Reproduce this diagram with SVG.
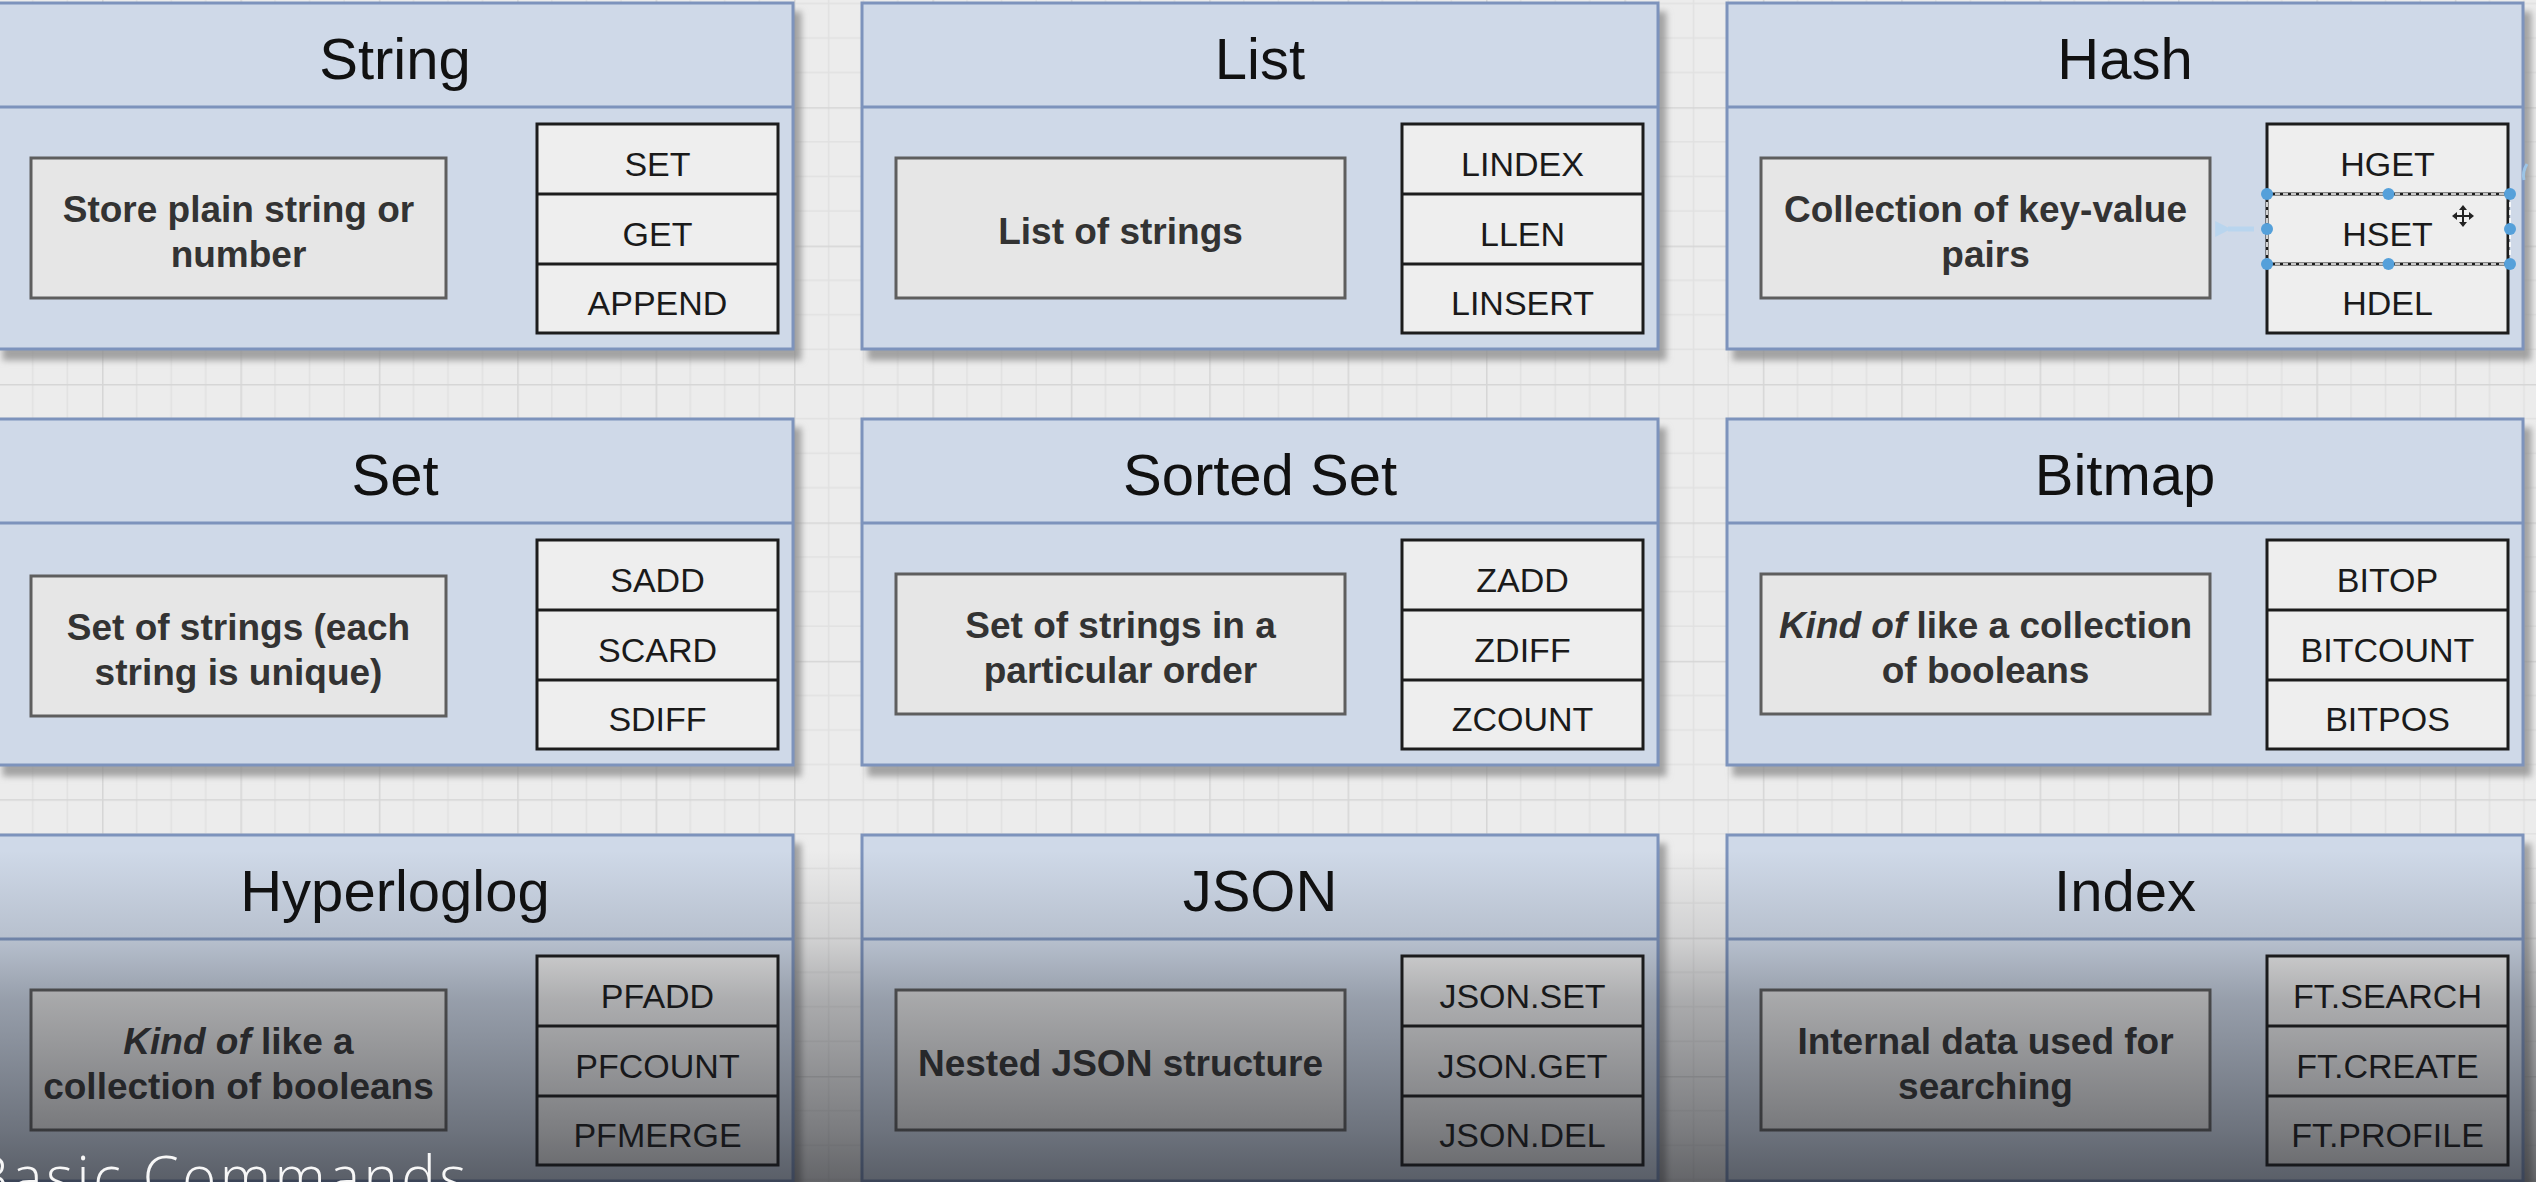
<svg xmlns="http://www.w3.org/2000/svg" width="2536" height="1182" viewBox="0 0 2536 1182">
<defs>
<pattern id="grid" x="-36.4" y="-31.2" width="138.4" height="138.4" patternUnits="userSpaceOnUse">
<rect width="138.4" height="138.4" fill="#ececec"/>
<path d="M34.6 0V138.4M69.2 0V138.4M103.8 0V138.4M0 34.6H138.4M0 69.2H138.4M0 103.8H138.4" stroke="#e1e1e1" stroke-width="1.5" fill="none"/>
<path d="M0.75 0V138.4M0 0.75H138.4" stroke="#d6d6d6" stroke-width="1.5" fill="none"/>
</pattern>
<filter id="shadow" x="-5%" y="-5%" width="115%" height="120%">
<feDropShadow dx="7" dy="10" stdDeviation="3" flood-color="#8a8a8a" flood-opacity="0.75"/>
</filter>
<linearGradient id="fade" x1="0" y1="850" x2="0" y2="1182" gradientUnits="userSpaceOnUse">
<stop offset="0" stop-color="#14161c" stop-opacity="0"/>
<stop offset="0.27" stop-color="#14161c" stop-opacity="0.13"/>
<stop offset="0.45" stop-color="#14161c" stop-opacity="0.3"/>
<stop offset="0.84" stop-color="#14161c" stop-opacity="0.52"/>
<stop offset="1" stop-color="#14161c" stop-opacity="0.63"/>
</linearGradient>
<marker id="hoverHead" viewBox="0 0 10 10" refX="2" refY="5" markerWidth="3.2" markerHeight="3.2" orient="auto">
<path d="M10 0L0 5L10 10z" fill="#b9d5ee"/>
</marker>
<style>
.lane{fill:#cfd9e8;stroke:#7d93bc;stroke-width:3;filter:url(#shadow)}
.sep{stroke:#7d93bc;stroke-width:3}
.title{font-family:"Liberation Sans",Arial,Helvetica,sans-serif;font-size:58px;fill:#111;text-anchor:middle}
.desc{fill:#e6e6e6;stroke:#5e5e5e;stroke-width:3}
.dtext{font-family:"Liberation Sans",Arial,Helvetica,sans-serif;font-size:37px;font-weight:bold;fill:#333;text-anchor:middle}
.cmd{fill:#eeeeee;stroke:#1c1c1c;stroke-width:3}
.ctext{font-family:"Liberation Sans",Arial,Helvetica,sans-serif;font-size:34px;fill:#1a1a1a;text-anchor:middle}
.it{font-style:italic}
.handle{fill:#55a0da}
.dash{stroke:#ffffff;stroke-width:1.6;stroke-dasharray:5 3;fill:none}
.caption{font-family:"Open Sans","Noto Sans","DejaVu Sans",sans-serif;font-weight:300;font-size:58px;letter-spacing:3.5px;fill:#f7f7f7}
</style>
</defs>

<rect x="0" y="0" width="2536" height="1182" fill="url(#grid)"/>

<!-- Row 1 -->
<g id="string" transform="translate(-3,0)">
<rect class="lane" x="0" y="3" width="796" height="346"/>
<line class="sep" x1="0" y1="107" x2="796" y2="107"/>
<text class="title" x="398" y="79">String</text>
<rect class="desc" x="34" y="158" width="415" height="140"/>
<text class="dtext"><tspan x="241.5" y="222">Store plain string or</tspan><tspan x="241.5" y="267">number</tspan></text>
<rect class="cmd" x="540" y="124" width="241" height="209"/>
<path class="cmd" d="M540 194H781M540 264H781"/>
<text class="ctext"><tspan x="660.5" y="176">SET</tspan><tspan x="660.5" y="246">GET</tspan><tspan x="660.5" y="315">APPEND</tspan></text>
</g>

<g id="list" transform="translate(862,0)">
<rect class="lane" x="0" y="3" width="796" height="346"/>
<line class="sep" x1="0" y1="107" x2="796" y2="107"/>
<text class="title" x="398" y="79">List</text>
<rect class="desc" x="34" y="158" width="449" height="140"/>
<text class="dtext" x="258.5" y="244">List of strings</text>
<rect class="cmd" x="540" y="124" width="241" height="209"/>
<path class="cmd" d="M540 194H781M540 264H781"/>
<text class="ctext"><tspan x="660.5" y="176">LINDEX</tspan><tspan x="660.5" y="246">LLEN</tspan><tspan x="660.5" y="315">LINSERT</tspan></text>
</g>

<g id="hash" transform="translate(1727,0)">
<rect class="lane" x="0" y="3" width="796" height="346"/>
<line class="sep" x1="0" y1="107" x2="796" y2="107"/>
<text class="title" x="398" y="79">Hash</text>
<rect class="desc" x="34" y="158" width="449" height="140"/>
<text class="dtext"><tspan x="258.5" y="222">Collection of key-value</tspan><tspan x="258.5" y="267">pairs</tspan></text>
<rect class="cmd" x="540" y="124" width="241" height="209"/>
<path class="cmd" d="M540 194H781M540 264H781"/>
<text class="ctext"><tspan x="660.5" y="176">HGET</tspan><tspan x="660.5" y="246">HSET</tspan><tspan x="660.5" y="315">HDEL</tspan></text>
</g>

<!-- Row 2 -->
<g id="set" transform="translate(-3,416)">
<rect class="lane" x="0" y="3" width="796" height="346"/>
<line class="sep" x1="0" y1="107" x2="796" y2="107"/>
<text class="title" x="398" y="79">Set</text>
<rect class="desc" x="34" y="160" width="415" height="140"/>
<text class="dtext"><tspan x="241.5" y="224">Set of strings (each</tspan><tspan x="241.5" y="269">string is unique)</tspan></text>
<rect class="cmd" x="540" y="124" width="241" height="209"/>
<path class="cmd" d="M540 194H781M540 264H781"/>
<text class="ctext"><tspan x="660.5" y="176">SADD</tspan><tspan x="660.5" y="246">SCARD</tspan><tspan x="660.5" y="315">SDIFF</tspan></text>
</g>

<g id="sorted-set" transform="translate(862,416)">
<rect class="lane" x="0" y="3" width="796" height="346"/>
<line class="sep" x1="0" y1="107" x2="796" y2="107"/>
<text class="title" x="398" y="79">Sorted Set</text>
<rect class="desc" x="34" y="158" width="449" height="140"/>
<text class="dtext"><tspan x="258.5" y="222">Set of strings in a</tspan><tspan x="258.5" y="267">particular order</tspan></text>
<rect class="cmd" x="540" y="124" width="241" height="209"/>
<path class="cmd" d="M540 194H781M540 264H781"/>
<text class="ctext"><tspan x="660.5" y="176">ZADD</tspan><tspan x="660.5" y="246">ZDIFF</tspan><tspan x="660.5" y="315">ZCOUNT</tspan></text>
</g>

<g id="bitmap" transform="translate(1727,416)">
<rect class="lane" x="0" y="3" width="796" height="346"/>
<line class="sep" x1="0" y1="107" x2="796" y2="107"/>
<text class="title" x="398" y="79">Bitmap</text>
<rect class="desc" x="34" y="158" width="449" height="140"/>
<text class="dtext"><tspan x="258.5" y="222"><tspan class="it">Kind of</tspan> like a collection</tspan><tspan x="258.5" y="267">of booleans</tspan></text>
<rect class="cmd" x="540" y="124" width="241" height="209"/>
<path class="cmd" d="M540 194H781M540 264H781"/>
<text class="ctext"><tspan x="660.5" y="176">BITOP</tspan><tspan x="660.5" y="246">BITCOUNT</tspan><tspan x="660.5" y="315">BITPOS</tspan></text>
</g>

<!-- Row 3 -->
<g id="hyperloglog" transform="translate(-3,832)">
<rect class="lane" x="0" y="3" width="796" height="346"/>
<line class="sep" x1="0" y1="107" x2="796" y2="107"/>
<text class="title" x="398" y="79">Hyperloglog</text>
<rect class="desc" x="34" y="158" width="415" height="140"/>
<text class="dtext"><tspan x="241.5" y="222"><tspan class="it">Kind of</tspan> like a</tspan><tspan x="241.5" y="267">collection of booleans</tspan></text>
<rect class="cmd" x="540" y="124" width="241" height="209"/>
<path class="cmd" d="M540 194H781M540 264H781"/>
<text class="ctext"><tspan x="660.5" y="176">PFADD</tspan><tspan x="660.5" y="246">PFCOUNT</tspan><tspan x="660.5" y="315">PFMERGE</tspan></text>
</g>

<g id="json" transform="translate(862,832)">
<rect class="lane" x="0" y="3" width="796" height="346"/>
<line class="sep" x1="0" y1="107" x2="796" y2="107"/>
<text class="title" x="398" y="79">JSON</text>
<rect class="desc" x="34" y="158" width="449" height="140"/>
<text class="dtext" x="258.5" y="244">Nested JSON structure</text>
<rect class="cmd" x="540" y="124" width="241" height="209"/>
<path class="cmd" d="M540 194H781M540 264H781"/>
<text class="ctext"><tspan x="660.5" y="176">JSON.SET</tspan><tspan x="660.5" y="246">JSON.GET</tspan><tspan x="660.5" y="315">JSON.DEL</tspan></text>
</g>

<g id="index" transform="translate(1727,832)">
<rect class="lane" x="0" y="3" width="796" height="346"/>
<line class="sep" x1="0" y1="107" x2="796" y2="107"/>
<text class="title" x="398" y="79">Index</text>
<rect class="desc" x="34" y="158" width="449" height="140"/>
<text class="dtext"><tspan x="258.5" y="222">Internal data used for</tspan><tspan x="258.5" y="267">searching</tspan></text>
<rect class="cmd" x="540" y="124" width="241" height="209"/>
<path class="cmd" d="M540 194H781M540 264H781"/>
<text class="ctext"><tspan x="660.5" y="176">FT.SEARCH</tspan><tspan x="660.5" y="246">FT.CREATE</tspan><tspan x="660.5" y="315">FT.PROFILE</tspan></text>
</g>

<!-- selection of HSET row -->
<g id="selection">
<path class="dash" d="M2267 194H2510M2267 264H2510M2267 194V264M2510 194V264"/>
<circle class="handle" cx="2267" cy="194" r="6"/>
<circle class="handle" cx="2388.5" cy="194" r="6"/>
<circle class="handle" cx="2510" cy="194" r="6"/>
<circle class="handle" cx="2267" cy="229" r="6"/>
<circle class="handle" cx="2510" cy="229" r="6"/>
<circle class="handle" cx="2267" cy="264" r="6"/>
<circle class="handle" cx="2388.5" cy="264" r="6"/>
<circle class="handle" cx="2510" cy="264" r="6"/>
<path d="M2527 164q-5 8 -3 16" stroke="#9cc4e6" stroke-width="3" fill="none"/>
<path d="M2463 205l-4 5h3v5h-5v-3l-5 4 5 4v-3h5v5h-3l4 5 4-5h-3v-5h5v3l5-4-5-4v3h-5v-5h3z" fill="#222"/>
</g>

<g id="connectors">
<line x1="2254" y1="229" x2="2228" y2="229" stroke="#b9d5ee" stroke-width="5" marker-end="url(#hoverHead)"/>
</g>

<!-- video fade overlay and caption -->
<rect x="0" y="850" width="2536" height="332" fill="url(#fade)"/>
<text class="caption" x="-28" y="1198">Basic Commands</text>
</svg>
